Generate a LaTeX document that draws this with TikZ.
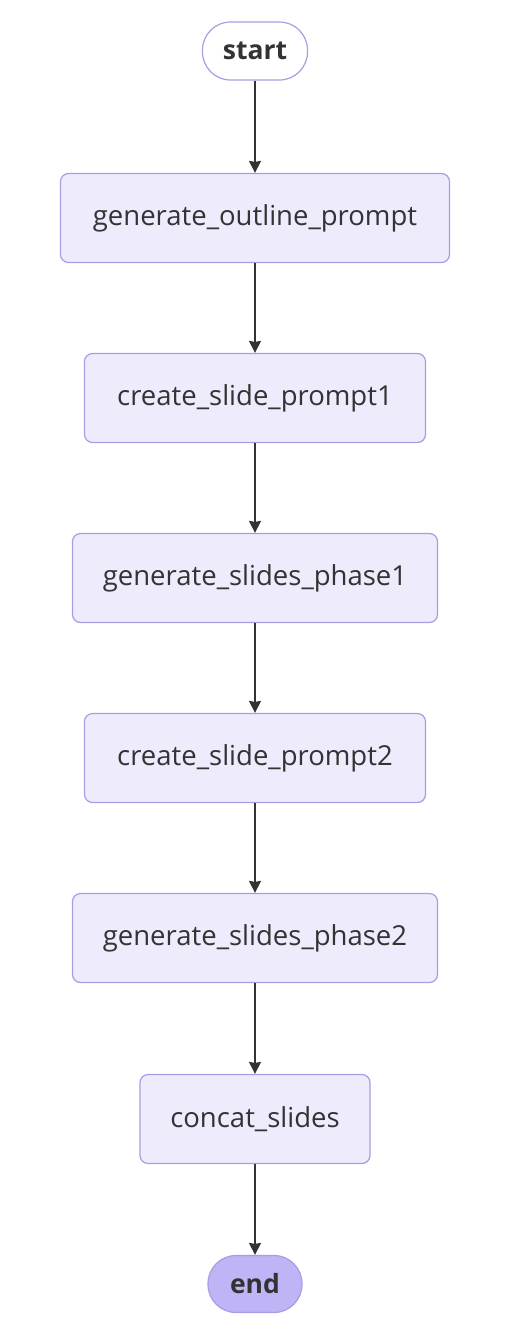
\documentclass[tikz,border=0pt]{standalone}
\usepackage{fontspec}
\setmainfont{Open Sans}
\usetikzlibrary{arrows.meta}
\definecolor{nodefill}{HTML}{EEEBFD}
\definecolor{nodeborder}{HTML}{A99CE2}
\definecolor{endfill}{HTML}{BFB4F5}
\definecolor{txt}{HTML}{333333}
\begin{document}
\begin{tikzpicture}[x=1pt,y=-1pt,
  box/.style={draw=nodeborder, fill=nodefill, line width=1.2pt, rounded corners=8pt,
    minimum height=89pt, inner sep=0pt, text=txt, font=\fontsize{27.5}{32}\selectfont},
  pill/.style={draw=nodeborder, line width=1.2pt, rounded corners=28pt,
    inner sep=0pt, text=txt, font=\fontsize{26.5}{31}\selectfont\bfseries},
  conn/.style={draw=txt, line width=1.4pt, -{Stealth[length=12pt,width=12pt,inset=1pt]}}]
\useasboundingbox (0,0) rectangle (504,1344);
\node[pill, fill=white, minimum width=105pt, minimum height=58pt] (start) at (255,51) {start};
\node[box, minimum width=389pt] (gop) at (255,218) {generate\_outline\_prompt};
\node[box, minimum width=341pt] (csp1) at (255,398) {create\_slide\_prompt1};
\node[box, minimum width=365pt] (gsp1) at (255,578) {generate\_slides\_phase1};
\node[box, minimum width=341pt] (csp2) at (255,758) {create\_slide\_prompt2};
\node[box, minimum width=365pt] (gsp2) at (255,938) {generate\_slides\_phase2};
\node[box, minimum width=230pt] (cs) at (255,1119) {concat\_slides};
\node[pill, fill=endfill, minimum width=94pt, minimum height=57pt] (end) at (255,1284) {end};
\draw[conn] (start) -- (gop);
\draw[conn] (gop) -- (csp1);
\draw[conn] (csp1) -- (gsp1);
\draw[conn] (gsp1) -- (csp2);
\draw[conn] (csp2) -- (gsp2);
\draw[conn] (gsp2) -- (cs);
\draw[conn] (cs) -- (end);
\end{tikzpicture}
\end{document}
